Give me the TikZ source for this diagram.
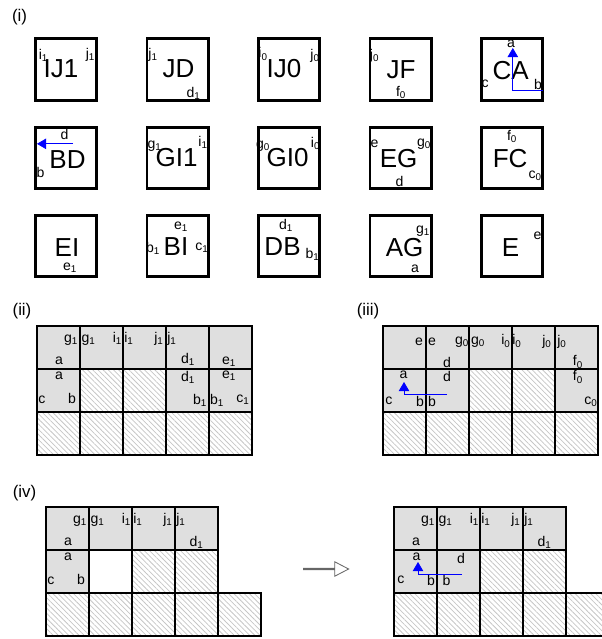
\documentclass[tikz,border=0pt]{standalone}
\usepackage{fontspec}
\setmainfont{Liberation Sans}
\usepackage{tikz}
\usetikzlibrary{arrows.meta, shapes.arrows, patterns.meta, positioning}
\tikzstyle{tile} = [rectangle, draw=black, line width=2pt, minimum size=1.53cm, inner sep=0]
\tikzstyle{bigtxt} = [inner sep=0, font=\fontsize{18.5}{18.5}\selectfont]
\tikzstyle{lbl} = [inner sep=0, font=\fontsize{10}{10}\selectfont]
\tikzstyle{part} = [inner sep=0, font=\fontsize{12}{12}\selectfont]
\tikzstyle{wcell} = [rectangle, draw=black, line width=1.4pt, minimum size=1.075cm, inner sep=0]
\tikzstyle{gcell} = [wcell, fill=gray!25]
\tikzstyle{hcell} = [wcell, pattern={Lines[angle=-45,distance=2.6pt,line width=0.55pt]}, pattern color=gray!45]
\tikzstyle{flip} = [blue, line width=0.5pt, -{Triangle[width=7.5pt,length=6.5pt]}]
\tikzstyle{trans} = [single arrow, draw=gray!80!black, fill=white, line width=0.6pt, inner sep=0, minimum height=1.125cm, minimum width=0.36cm, single arrow head extend=0.11cm, single arrow tip angle=55]
\newcommand{\ix}[2]{#1\textsubscript{#2}}

\begin{document}
\begin{tikzpicture}[x=0.025cm, y=-0.025cm, node distance=2.7875cm]
\useasboundingbox (0,0) rectangle (601,639);

\node[part] (p1) at (19.5,17.5) {(i)};
\node[part] (p2) at (22,311) {(ii)};
\node[part] (p3) at (368,311) {(iii)};
\node[part] (p4) at (24.5,493) {(iv)};

% tiles
\node[tile] (ij1) at (66,69.5) {};
\node[tile, right of=ij1] (jd) {};
\node[tile, right of=jd] (ij0) {};
\node[tile, right of=ij0] (jf) {};
\node[tile, right of=jf] (ca) {};
\node[tile, below of=ij1, yshift=0.58cm] (bd) {};
\node[tile, right of=bd] (gi1) {};
\node[tile, right of=gi1] (gi0) {};
\node[tile, right of=gi0] (eg) {};
\node[tile, right of=eg] (fc) {};
\node[tile, below of=bd, yshift=0.58cm] (ei) {};
\node[tile, right of=ei] (bi) {};
\node[tile, right of=bi] (db) {};
\node[tile, right of=db] (ag) {};
\node[tile, right of=ag] (e) {};

\node[bigtxt] (ij1-t) at ([shift={(-5,-1)}]ij1) {IJ1};
\node[lbl] (ij1-i) at ([shift={(-22.5,-14.5)}]ij1) {\ix{i}{1}};
\node[lbl] (ij1-j) at ([shift={(24.5,-14.5)}]ij1) {\ix{j}{1}};

\node[bigtxt] (jd-t) at ([shift={(1,-1)}]jd) {JD};
\node[lbl] (jd-j) at ([shift={(-24.5,-14.5)}]jd) {\ix{j}{1}};
\node[lbl] (jd-d) at ([shift={(16,23.5)}]jd) {\ix{d}{1}};

\node[bigtxt] (ij0-t) at ([shift={(-5,-1)}]ij0) {IJ0};
\node[lbl] (ij0-i) at ([shift={(-26,-15.5)}]ij0) {\ix{i}{0}};
\node[lbl] (ij0-j) at ([shift={(26,-13.5)}]ij0) {\ix{j}{0}};

\node[bigtxt] (jf-t) at ([shift={(0.5,0)}]jf) {JF};
\node[lbl] (jf-j) at ([shift={(-26,-13.5)}]jf) {\ix{j}{0}};
\node[lbl] (jf-f) at ([shift={(0.5,23)}]jf) {\ix{f}{0}};

\node[bigtxt] (ca-t) at ([shift={(-1.5,1.5)}]ca) {CA};
\node[lbl] (ca-a) at ([shift={(-1,-25.5)}]ca) {a};
\node[lbl] (ca-c) at ([shift={(-27,14.5)}]ca) {c};
\node[lbl] (ca-b) at ([shift={(26,14.5)}]ca) {b};
\coordinate (ca-s) at ([shift={(30.5,20.5)}]ca);
\coordinate (ca-e) at ([shift={(0.7,-21.5)}]ca);
\draw[flip] (ca-s) -| (ca-e);

\node[bigtxt] (bd-t) at ([shift={(1.5,2)}]bd) {BD};
\node[lbl] (bd-d) at ([shift={(-1.5,-23)}]bd) {d};
\node[lbl] (bd-b) at ([shift={(-25.5,15)}]bd) {b};
\coordinate (bd-s) at ([shift={(7,-14)}]bd);
\coordinate (bd-e) at ([shift={(-29,-14)}]bd);
\draw[flip] (bd-s) -- (bd-e);

\node[bigtxt] (gi1-t) at ([shift={(-1,-0.5)}]gi1) {GI1};
\node[lbl] (gi1-g) at ([shift={(-23,-12)}]gi1) {\ix{g}{1}};
\node[lbl] (gi1-i) at ([shift={(25.5,-15)}]gi1) {\ix{i}{1}};

\node[bigtxt] (gi0-t) at ([shift={(-1.5,-0.5)}]gi0) {GI0};
\node[lbl] (gi0-g) at ([shift={(-26,-12)}]gi0) {\ix{g}{0}};
\node[lbl] (gi0-i) at ([shift={(26.5,-14)}]gi0) {\ix{i}{0}};

\node[bigtxt] (eg-t) at ([shift={(-2,1)}]eg) {EG};
\node[lbl] (eg-e) at ([shift={(-26,-14.5)}]eg) {e};
\node[lbl] (eg-g) at ([shift={(23.5,-14)}]eg) {\ix{g}{0}};
\node[lbl] (eg-d) at ([shift={(-1,24)}]eg) {d};

\node[bigtxt] (fc-t) at ([shift={(-2,1)}]fc) {FC};
\node[lbl] (fc-f) at ([shift={(0,-21)}]fc) {\ix{f}{0}};
\node[lbl] (fc-c) at ([shift={(23,18)}]fc) {\ix{c}{0}};

\node[bigtxt] (ei-t) at ([shift={(1,1)}]ei) {EI};
\node[lbl] (ei-e) at ([shift={(4,22)}]ei) {\ix{e}{1}};

\node[bigtxt] (bi-t) at ([shift={(-1.5,0)}]bi) {BI};
\node[lbl] (bi-e) at ([shift={(3.5,-19)}]bi) {\ix{e}{1}};
\node[lbl] (bi-b) at ([shift={(-24.5,2)}]bi) {\ix{b}{1}};
\node[lbl] (bi-c) at ([shift={(24.5,2)}]bi) {\ix{c}{1}};

\node[bigtxt] (db-t) at ([shift={(-6.5,0)}]db) {DB};
\node[lbl] (db-d) at ([shift={(-3,-21)}]db) {\ix{d}{1}};
\node[lbl] (db-b) at ([shift={(23.5,8)}]db) {\ix{b}{1}};

\node[bigtxt] (ag-t) at ([shift={(4,1)}]ag) {AG};
\node[lbl] (ag-g) at ([shift={(22.5,-15)}]ag) {\ix{g}{1}};
\node[lbl] (ag-a) at ([shift={(14.5,23)}]ag) {a};

\node[bigtxt] (e-t) at ([shift={(-1.5,1)}]e) {E};
\node[lbl] (e-e) at ([shift={(25.5,-10)}]e) {e};

% (ii)
\begin{scope}[shift={(37,326)}]
\foreach \c/\r/\s in {0/0/gcell,1/0/gcell,2/0/gcell,3/0/gcell,4/0/gcell,
    0/1/gcell,1/1/hcell,2/1/hcell,3/1/gcell,4/1/gcell,
    0/2/hcell,1/2/hcell,2/2/hcell,3/2/hcell,4/2/hcell}
  \node[\s] (a-\c\r) at (\c*43+21.5,\r*43+21.5) {};
\foreach \px/\py/\t [count=\n] in {34/14/\ix{g}{1}, 22/35/a, 51.5/14/\ix{g}{1},
    80.5/12/\ix{i}{1}, 92/12/\ix{i}{1}, 122/13/\ix{j}{1}, 135/13/\ix{j}{1},
    151/33/\ix{d}{1}, 192/36/\ix{e}{1}, 22/50/a, 5/74/c, 35/72/b,
    151/51/\ix{d}{1}, 163/74/\ix{b}{1}, 192/50/\ix{e}{1}, 180/74/\ix{b}{1}, 206/74/\ix{c}{1}}
  \node[lbl] (a-l\n) at (\px,\py) {\t};
\end{scope}

% (iii)
\begin{scope}[shift={(383,326)}]
\foreach \c/\r/\s in {0/0/gcell,1/0/gcell,2/0/gcell,3/0/gcell,4/0/gcell,
    0/1/gcell,1/1/gcell,2/1/hcell,3/1/hcell,4/1/gcell,
    0/2/hcell,1/2/hcell,2/2/hcell,3/2/hcell,4/2/hcell}
  \node[\s] (b-\c\r) at (\c*43+21.5,\r*43+21.5) {};
\foreach \px/\py/\t [count=\n] in {36/16/e, 49/16/e, 79/16/\ix{g}{0}, 64/36/d,
    95/16/\ix{g}{0}, 123/15/\ix{i}{0}, 134/15/\ix{i}{0}, 164/16/\ix{j}{0},
    179/16/\ix{j}{0}, 195/36/\ix{f}{0}, 20.5/49/a, 6/75/c, 37/75/b, 49/75/b,
    64/50/d, 195/51/\ix{f}{0}, 208/76/\ix{c}{0}}
  \node[lbl] (b-l\n) at (\px,\py) {\t};
\coordinate (b-s) at (64,68);
\coordinate (b-e) at (21,56);
\draw[flip] (b-s) -| (b-e);
\end{scope}

% (iv) before
\begin{scope}[shift={(46,507)}]
\foreach \c/\r/\s in {0/0/gcell,1/0/gcell,2/0/gcell,3/0/gcell,
    0/1/gcell,1/1/wcell,2/1/hcell,3/1/hcell,
    0/2/hcell,1/2/hcell,2/2/hcell,3/2/hcell,4/2/hcell}
  \node[\s] (c-\c\r) at (\c*43+21.5,\r*43+21.5) {};
\foreach \px/\py/\t [count=\n] in {34/14/\ix{g}{1}, 22/35/a, 51.5/14/\ix{g}{1},
    80.5/12/\ix{i}{1}, 92/12/\ix{i}{1}, 122/13/\ix{j}{1}, 135/13/\ix{j}{1},
    150.5/35/\ix{d}{1}, 22/50/a, 5/74/c, 35/72/b}
  \node[lbl] (c-l\n) at (\px,\py) {\t};
\end{scope}

\node[trans] (goes) at (325.5,569) {};

% (iv) after
\begin{scope}[shift={(394,507)}]
\foreach \c/\r/\s in {0/0/gcell,1/0/gcell,2/0/gcell,3/0/gcell,
    0/1/gcell,1/1/gcell,2/1/hcell,3/1/hcell,
    0/2/hcell,1/2/hcell,2/2/hcell,3/2/hcell,4/2/hcell}
  \node[\s] (d-\c\r) at (\c*43+21.5,\r*43+21.5) {};
\foreach \px/\py/\t [count=\n] in {34/14/\ix{g}{1}, 22/35/a, 51.5/14/\ix{g}{1},
    80.5/12/\ix{i}{1}, 92/12/\ix{i}{1}, 122/13/\ix{j}{1}, 135/13/\ix{j}{1},
    150.5/35/\ix{d}{1}, 22.5/49.5/a, 7/73/c, 37/73/b, 52.5/73/b, 67/51/d}
  \node[lbl] (d-l\n) at (\px,\py) {\t};
\coordinate (d-s) at (68,67);
\coordinate (d-e) at (24,55);
\draw[flip] (d-s) -| (d-e);
\end{scope}

\end{tikzpicture}
\end{document}
